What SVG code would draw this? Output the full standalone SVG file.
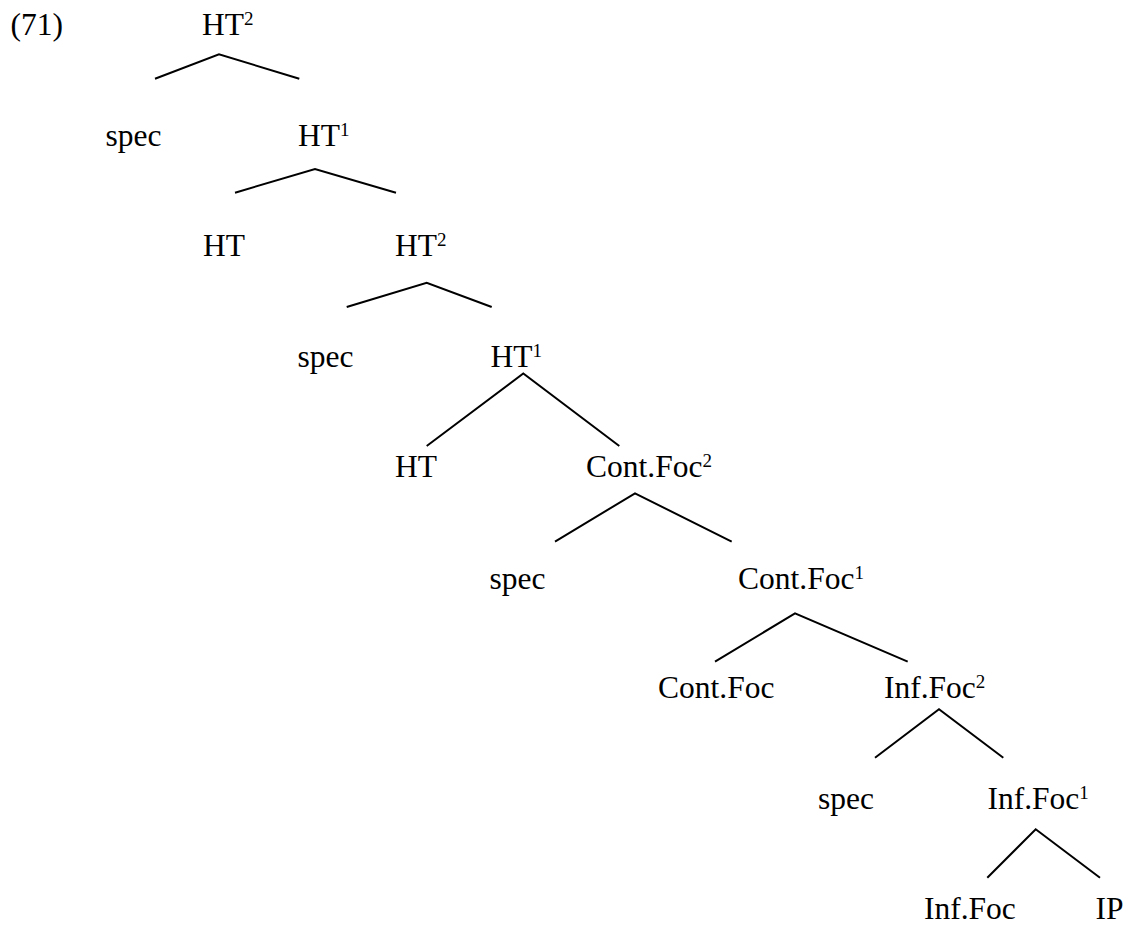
<svg xmlns="http://www.w3.org/2000/svg" width="1131" height="930" viewBox="0 0 1131 930">
  <style>
    text { font-family: "Liberation Serif", "Times New Roman", serif; font-size: 31.5px; fill: #000; }
    .sup { font-size: 19px; }
    .branch { stroke: #000; stroke-width: 2; fill: none; stroke-linecap: butt; }
  </style>
  <rect width="1131" height="930" fill="#fff"/>

  <text id="example-number" x="10.5" y="35">(71)</text>

  <!-- connectors: each path is one binary branching -->
  <g id="connectors">
    <path class="branch" d="M155,78.7 L219,54.3 L299.3,78.7"/>
    <path class="branch" d="M235,192.7 L315,169 L396,192.7"/>
    <path class="branch" d="M346.7,307 L426.7,282.7 L491.7,307"/>
    <path class="branch" d="M426.7,446 L523.3,373.5 L619.3,446"/>
    <path class="branch" d="M555,541.7 L635,493.3 L731.7,541.7"/>
    <path class="branch" d="M715,661.7 L795,613.3 L907.7,661.7"/>
    <path class="branch" d="M875,757.7 L939,709.3 L1003.3,757.7"/>
    <path class="branch" d="M987.3,877.7 L1035.7,829.3 L1100,877.7"/>
  </g>

  <!-- tree nodes -->
  <g id="ht2-top"><text x="202" y="35">HT<tspan class="sup" dy="-10">2</tspan></text></g>
  <g id="spec-1"><text x="105.5" y="146">spec</text></g>
  <g id="ht1-top"><text x="298" y="146">HT<tspan class="sup" dy="-10">1</tspan></text></g>
  <g id="ht-head-1"><text x="203" y="256">HT</text></g>
  <g id="ht2-low"><text x="395" y="256">HT<tspan class="sup" dy="-10">2</tspan></text></g>
  <g id="spec-2"><text x="297.5" y="367">spec</text></g>
  <g id="ht1-low"><text x="490.5" y="367">HT<tspan class="sup" dy="-10">1</tspan></text></g>
  <g id="ht-head-2"><text x="395" y="477">HT</text></g>
  <g id="contfoc2"><text x="586" y="477">Cont.Foc<tspan class="sup" dy="-10">2</tspan></text></g>
  <g id="spec-3"><text x="489.5" y="588.5">spec</text></g>
  <g id="contfoc1"><text x="738" y="588.5">Cont.Foc<tspan class="sup" dy="-10">1</tspan></text></g>
  <g id="contfoc-head"><text x="658" y="697.5">Cont.Foc</text></g>
  <g id="inffoc2"><text x="884" y="697.5">Inf.Foc<tspan class="sup" dy="-10">2</tspan></text></g>
  <g id="spec-4"><text x="818" y="808.5">spec</text></g>
  <g id="inffoc1"><text x="987.5" y="808.5">Inf.Foc<tspan class="sup" dy="-10">1</tspan></text></g>
  <g id="inffoc-head"><text x="924" y="918.5">Inf.Foc</text></g>
  <g id="ip"><text x="1095.5" y="918.5">IP</text></g>
</svg>
